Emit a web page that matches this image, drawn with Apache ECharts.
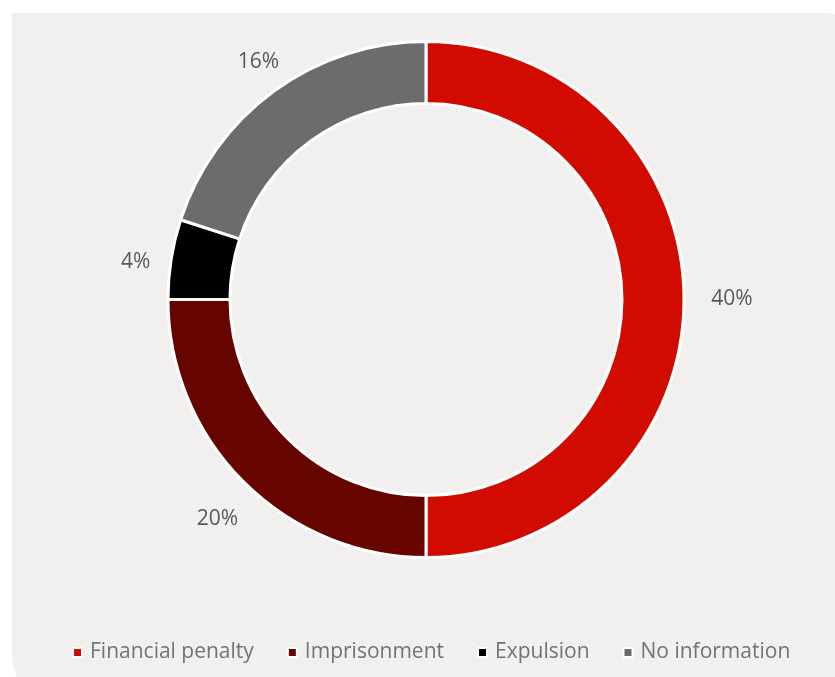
<!DOCTYPE html>
<html>
<head>
<meta charset="utf-8">
<script src="https://cdn.jsdelivr.net/npm/echarts@6/dist/echarts.min.js"></script>
<style>
  html, body { margin: 0; padding: 0; background: #ffffff; overflow: hidden; }
  #panel {
    position: absolute; left: 12px; top: 13px; width: 860px; height: 700px;
    background: #f2f0ef; border-radius: 0 46px 0 56px / 0 46px 0 60px;
  }
  #chart { position: absolute; left: 0; top: 0; width: 835px; height: 677px; }
</style>
</head>
<body>
<div id="panel"></div>
<div id="chart"></div>
<script>
// Penalty types and their shares (percent)
const categories = ['Financial penalty', 'Imprisonment', 'Expulsion', 'No information'];
const shares = [40, 20, 4, 16];
const colors = ['#d20b00', '#660400', '#000000', '#6c6c6c'];

const chart = echarts.init(document.getElementById('chart'), null, { renderer: 'canvas' });

const textFont = '"Open Sans", Lato, "DejaVu Sans", sans-serif';

// small nudges so each percentage sits just outside its slice
const labelNudge = [[4, 0], [5, 6], [8, 10], [10, 7]];

chart.setOption({
  backgroundColor: 'transparent',
  animation: false,
  legend: {
    top: 642,
    left: 72,
    padding: 0,
    itemWidth: 9,
    itemHeight: 9,
    itemGap: 33,
    icon: 'rect',
    textStyle: { color: '#737373', fontSize: 21, fontFamily: textFont, padding: [0, 0, 0, 3] },
    data: categories
  },
  series: [
    {
      // the donut ring
      type: 'pie',
      center: [426, 299.5],
      radius: [196, 258],
      startAngle: 90,
      clockwise: true,
      silent: true,
      label: { show: false },
      labelLine: { show: false },
      itemStyle: { borderColor: '#ffffff', borderWidth: 3 },
      data: categories.map((name, i) => ({
        name, value: shares[i], itemStyle: { color: colors[i] }
      }))
    },
    {
      // transparent outer ring that carries the percentage labels
      type: 'pie',
      center: [426, 299.5],
      radius: [280, 318],
      startAngle: 90,
      clockwise: true,
      silent: true,
      legendHoverLink: false,
      itemStyle: { color: 'rgba(0,0,0,0)' },
      label: {
        show: true,
        position: 'inside',
        formatter: p => p.value + '%',
        color: '#595959',
        fontSize: 21,
        fontFamily: textFont
      },
      labelLine: { show: false },
      data: categories.map((name, i) => ({
        name: name + ' ',
        value: shares[i],
        label: { offset: labelNudge[i] }
      }))
    }
  ]
});
</script>
</body>
</html>
